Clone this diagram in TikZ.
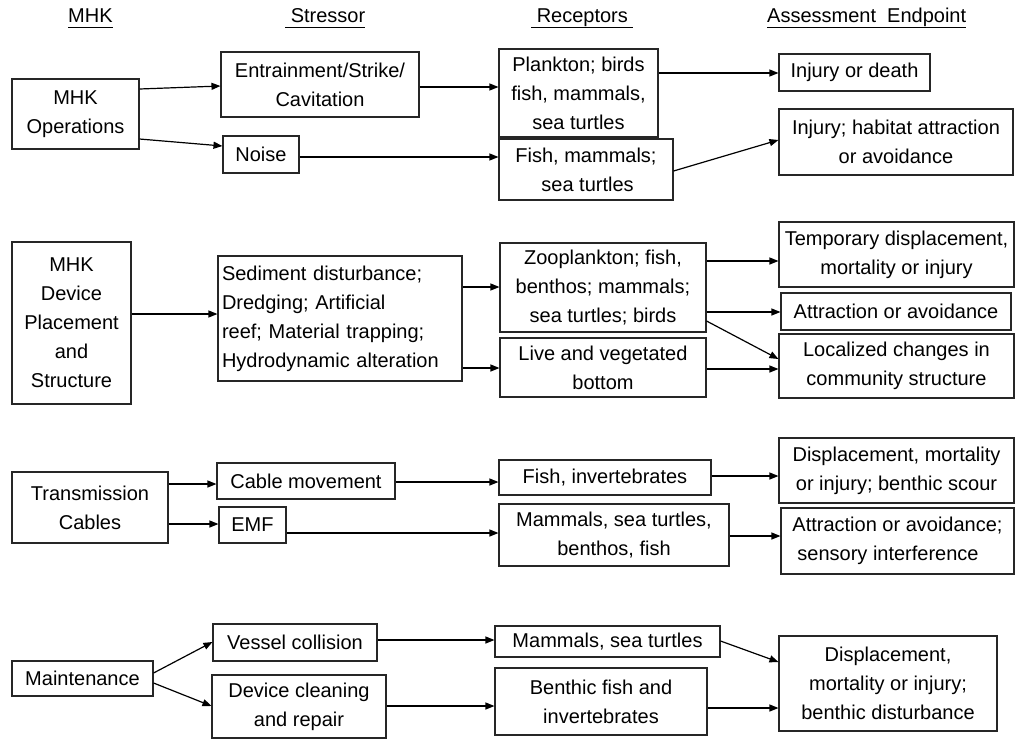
\documentclass[tikz,border=0pt]{standalone}
\usepackage{fontspec}
\setmainfont{Liberation Sans}
\usetikzlibrary{arrows.meta}
\begin{document}
\begin{tikzpicture}[x=1pt,y=-1pt,
  box/.style={draw=black!85, line width=1.1pt, inner sep=0pt, align=center,
    font=\fontsize{20}{29}\selectfont},
  hdr/.style={anchor=base west, inner sep=0pt, font=\fontsize{20}{24}\selectfont},
  arr/.style={line width=1.2pt, -{Triangle[length=9pt,width=7pt]}}]
\useasboundingbox (0,0) rectangle (1018,740);
% headers
\node[hdr] (h1) at (68,22) {\underline{MHK\vphantom{p}}};
\node[hdr] (h2) at (285,22) {\underline{\ Stressor\vphantom{p}}};
\node[hdr] (h3) at (531,22) {\underline{\ Receptors\ \vphantom{p}}};
\node[hdr] (h4) at (767,22) {\underline{Assessment\ \ Endpoint\vphantom{p}}};
% row 1
\node[box, minimum width=127, minimum height=70] (ops) at (75.5,114) {MHK\\Operations};
\node[box, minimum width=198, minimum height=65] (ent) at (320,84.5) {Entrainment/Strike/\\Cavitation};
\node[box, minimum width=76, minimum height=37] (noise) at (261,154.5) {Noise};
\node[box, minimum width=159, minimum height=88] (plank) at (578.5,93) {Plankton; birds\\fish, mammals,\\sea turtles};
\node[box, minimum width=174, minimum height=61, align=left] (fishm) at (586,169.5) {Fish, mammals;\\\hspace{26pt}sea turtles};
\node[box, minimum width=151, minimum height=37] (inj1) at (854.5,72.5) {Injury or death};
\node[box, minimum width=234, minimum height=66] (inj2) at (896,142) {Injury; habitat attraction\\or avoidance};
% row 2
\node[box, minimum width=119, minimum height=162] (dev) at (71.5,323) {MHK\\Device\\Placement\\and\\Structure};
\node[box, minimum width=244, minimum height=125, text width=236pt, align=left] (sed) at (340,318.5) {Sediment disturbance;\\Dredging; Artificial\\reef; Material trapping;\\Hydrodynamic alteration};
\node[box, minimum width=206, minimum height=89] (zoo) at (603,287.5) {Zooplankton; fish,\\benthos; mammals;\\sea turtles; birds};
\node[box, minimum width=206, minimum height=59] (live) at (603,367.5) {Live and vegetated\\bottom};
\node[box, minimum width=235, minimum height=65] (temp) at (896.5,254.5) {Temporary displacement,\\mortality or injury};
\node[box, minimum width=230, minimum height=37] (attr) at (896,311.5) {Attraction or avoidance};
\node[box, minimum width=235, minimum height=64] (loc) at (896.5,366) {Localized changes in\\community structure};
% row 3
\node[box, minimum width=156, minimum height=71] (tc) at (90,507.5) {Transmission\\Cables};
\node[box, minimum width=178, minimum height=36] (cab) at (306,481) {Cable movement};
\node[box, minimum width=67, minimum height=36] (emf) at (252.5,525) {EMF};
\node[box, minimum width=212, minimum height=35] (fishinv) at (605,477.5) {Fish, invertebrates};
\node[box, minimum width=230, minimum height=62] (mam) at (614,535) {Mammals, sea turtles,\\benthos, fish};
\node[box, minimum width=235, minimum height=65] (disp1) at (896.5,470.5) {Displacement, mortality\\or injury; benthic scour};
\node[box, minimum width=233, minimum height=66, align=left] (attr2) at (897.5,541) {Attraction or avoidance;\\\hspace{5pt}sensory interference};
% row 4
\node[box, minimum width=141, minimum height=35] (maint) at (82.5,678.5) {Maintenance};
\node[box, minimum width=164, minimum height=37] (vessel) at (295,642.5) {Vessel collision};
\node[box, minimum width=174, minimum height=63] (devc) at (299,706.5) {Device cleaning\\and repair};
\node[box, minimum width=225, minimum height=31] (mamst) at (607.5,641.5) {Mammals, sea turtles};
\node[box, minimum width=212, minimum height=67] (benth) at (601,701.5) {Benthic fish and\\invertebrates};
\node[box, minimum width=218, minimum height=95] (disp2) at (888,683.5) {Displacement,\\mortality or injury;\\benthic disturbance};
% arrows row 1
\draw[arr] (ops.east |- 0,89) -- (ent.west |- 0,86);
\draw[arr] (ops.east |- 0,139) -- (noise.west |- 0,146);
\draw[arr] (ent.east |- 0,87) -- (plank.west |- 0,87);
\draw[arr] (noise.east |- 0,157) -- (fishm.west |- 0,157);
\draw[arr] (plank.east |- 0,73) -- (inj1.west |- 0,73);
\draw[arr] (fishm.east |- 0,171) -- (inj2.west |- 0,140);
% arrows row 2
\draw[arr] (dev.east |- 0,314) -- (sed.west |- 0,314);
\draw[arr] (sed.east |- 0,287) -- (zoo.west |- 0,287);
\draw[arr] (sed.east |- 0,368) -- (live.west |- 0,368);
\draw[arr] (zoo.east |- 0,261) -- (temp.west |- 0,261);
\draw[arr] (zoo.east |- 0,312) -- (attr.west |- 0,312);
\draw[arr] (zoo.east |- 0,321) -- (loc.west |- 0,359);
\draw[arr] (live.east |- 0,369) -- (loc.west |- 0,369);
% arrows row 3
\draw[arr] (tc.east |- 0,484) -- (cab.west |- 0,484);
\draw[arr] (tc.east |- 0,524) -- (emf.west |- 0,524);
\draw[arr] (cab.east |- 0,482) -- (fishinv.west |- 0,482);
\draw[arr] (emf.east |- 0,533) -- (mam.west |- 0,533);
\draw[arr] (fishinv.east |- 0,476) -- (disp1.west |- 0,476);
\draw[arr] (mam.east |- 0,536) -- (attr2.west |- 0,536);
% arrows row 4
\draw[arr] (maint.east |- 0,673) -- (vessel.west |- 0,642);
\draw[arr] (maint.east |- 0,683) -- (devc.west |- 0,706);
\draw[arr] (vessel.east |- 0,640) -- (mamst.west |- 0,640);
\draw[arr] (devc.east |- 0,706) -- (benth.west |- 0,706);
\draw[arr] (mamst.east |- 0,641) -- (disp2.west |- 0,662);
\draw[arr] (benth.east |- 0,708) -- (disp2.west |- 0,708);
\end{tikzpicture}
\end{document}
